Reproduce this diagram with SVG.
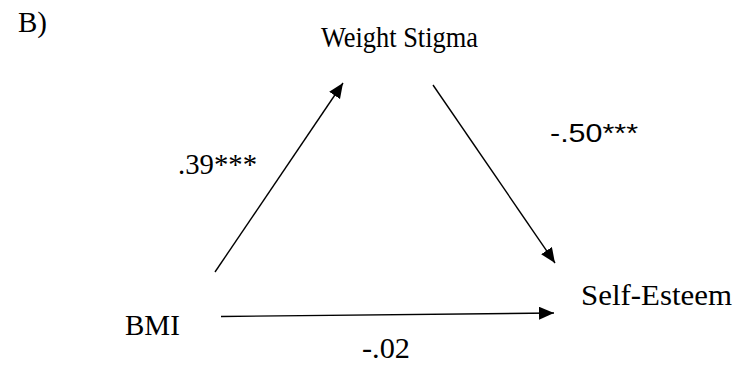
<svg xmlns="http://www.w3.org/2000/svg" width="740" height="370" viewBox="0 0 740 370">
<style>
.t{font-family:"Liberation Serif","Times New Roman",serif;fill:#000;font-size:29px}
.s{font-family:"Liberation Sans",Arial,sans-serif;fill:#000;font-size:26px}
.c{stroke:#000;stroke-width:1.4;fill:none}
</style>
<defs>
<marker id="ah" markerUnits="userSpaceOnUse" markerWidth="16" markerHeight="14" refX="15" refY="6.5" orient="auto">
<path d="M0,0 L15,6.5 L0,13 z" fill="#000"/>
</marker>
</defs>
<rect width="740" height="370" fill="#fff"/>
<text class="t" x="18" y="32">B)</text>
<g id="ws"><text class="t" x="321" y="47" textLength="157" lengthAdjust="spacingAndGlyphs">Weight Stigma</text></g>
<g id="bmi"><text class="t" x="125" y="335">BMI</text></g>
<g id="se"><text class="t" x="581" y="305" textLength="151" lengthAdjust="spacingAndGlyphs">Self-Esteem</text></g>
<g id="connectors">
<line class="c" x1="215" y1="272" x2="343" y2="83" marker-end="url(#ah)"/>
<line class="c" x1="433" y1="85" x2="555" y2="263" marker-end="url(#ah)"/>
<line class="c" x1="221" y1="316.5" x2="554" y2="313" marker-end="url(#ah)"/>
<text class="t" x="178" y="174" textLength="79" lengthAdjust="spacingAndGlyphs">.39***</text>
<text class="s" x="550" y="142" textLength="88" lengthAdjust="spacingAndGlyphs">-.50***</text>
<text class="t" x="362" y="358" textLength="48" lengthAdjust="spacingAndGlyphs">-.02</text>
</g>
</svg>
